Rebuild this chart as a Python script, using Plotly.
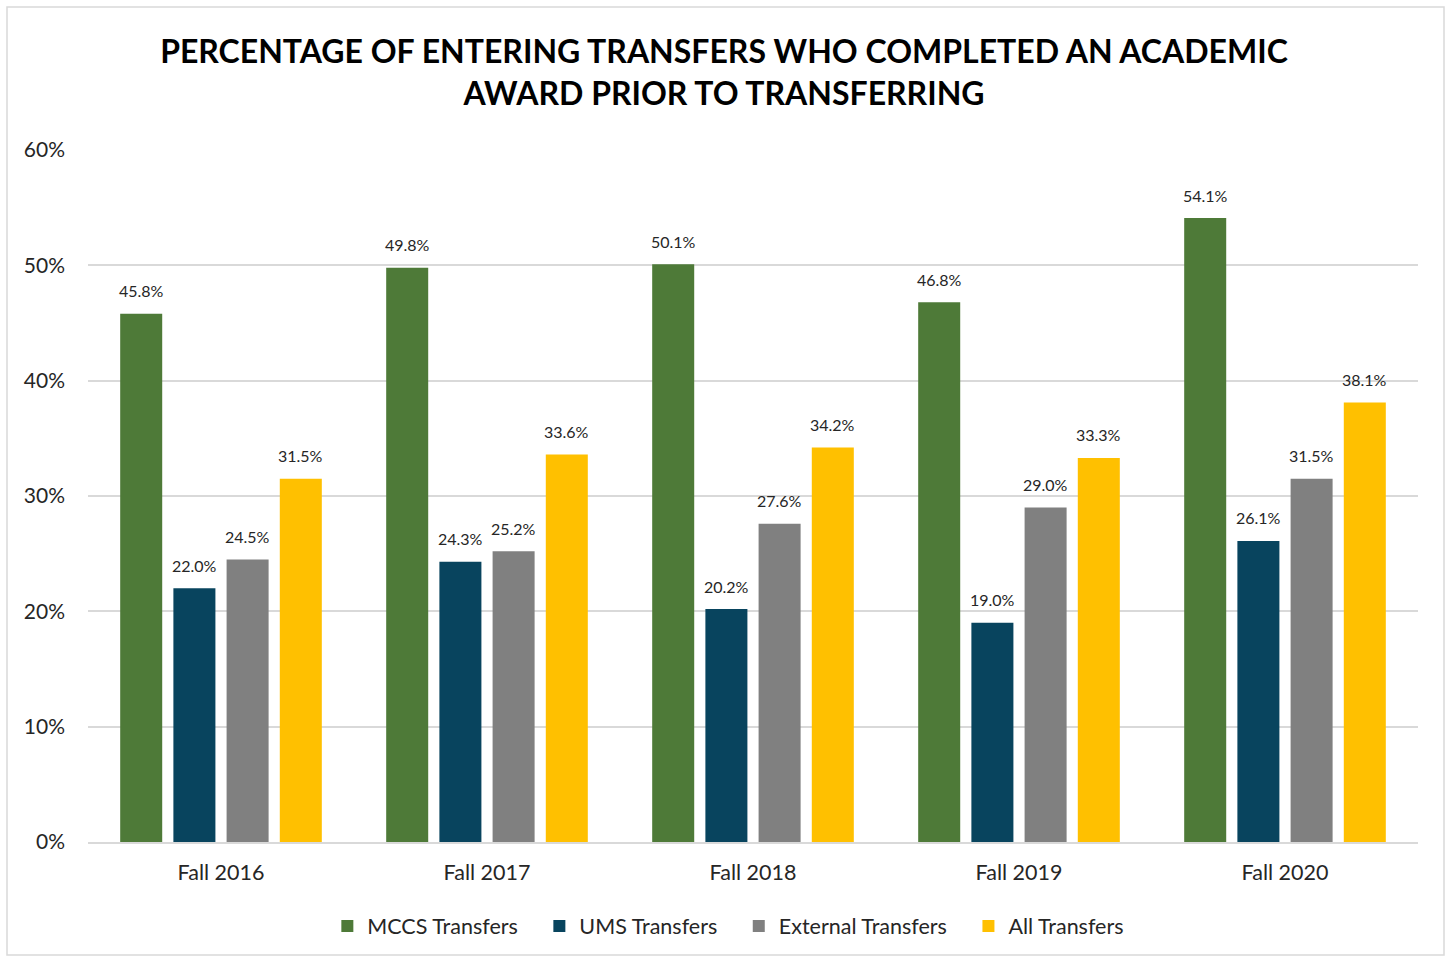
import plotly.graph_objects as go

categories = ["Fall 2016", "Fall 2017", "Fall 2018", "Fall 2019", "Fall 2020"]
series_names = ["MCCS Transfers", "UMS Transfers", "External Transfers", "All Transfers"]
mccs = [45.8, 49.8, 50.1, 46.8, 54.1]
ums = [22.0, 24.3, 20.2, 19.0, 26.1]
external = [24.5, 25.2, 27.6, 29.0, 31.5]
all_transfers = [31.5, 33.6, 34.2, 33.3, 38.1]
y_ticks = [0, 10, 20, 30, 40, 50, 60]

series_values = [mccs, ums, external, all_transfers]
colors = ["#4E7A38", "#08445E", "#808080", "#FFC000"]

FONT = "Lato, Carlito, Calibri, sans-serif"
W, H = 1448, 957
ML, MR, MT, MB = 88, 30, 150, 115
bargap = 0.2

fig = go.Figure()
for i, (name, vals, col) in enumerate(zip(series_names, series_values, colors)):
    pad = "\u00a0" * 3 if i < len(series_names) - 1 else ""
    fig.add_trace(go.Bar(
        x=list(range(len(categories))), y=[v / 100 for v in vals], name=name + pad,
        marker=dict(color=col, line=dict(width=0)),
        hoverinfo="skip",
    ))

# data labels above bars
n = len(series_names)
slot = (1 - bargap) / n
annotations = []
for si, vals in enumerate(series_values):
    off = -(1 - bargap) / 2 + slot * (si + 0.5)
    for ci, v in enumerate(vals):
        annotations.append(dict(
            x=ci + off, y=v / 100, xref="x", yref="y",
            text=f"{v:.1f}%", showarrow=False, yanchor="middle", yshift=23,
            font=dict(family=FONT, size=16, color="#262626"),
        ))

pw = W - ML - MR
ph = H - MT - MB
fig.update_layout(
    width=W, height=H,
    margin=dict(l=ML, r=MR, t=MT, b=MB),
    paper_bgcolor="white", plot_bgcolor="white",
    barmode="group", bargap=bargap, bargroupgap=0.21,
    title=dict(
        text="PERCENTAGE OF ENTERING TRANSFERS WHO COMPLETED AN ACADEMIC<br>AWARD PRIOR TO TRANSFERRING",
        x=0.5, xref="container", xanchor="center",
        y=1 - 63 / H, yref="container", yanchor="middle",
        font=dict(family=FONT, size=32, color="black", weight="bold"),
    ),
    font=dict(family=FONT, color="#262626"),
    xaxis=dict(
        tickmode="array", tickvals=list(range(len(categories))), ticktext=categories,
        range=[-0.5, len(categories) - 0.5],
        showgrid=False, zeroline=False, showline=True, linecolor="#D9D9D9", linewidth=1.5,
        ticks="", tickfont=dict(family=FONT, size=21.5, color="#262626"),
        ticklabelstandoff=10,
    ),
    yaxis=dict(
        range=[0, 0.6], tickvals=[t / 100 for t in y_ticks],
        ticktext=[f"{t}%" for t in y_ticks],
        showgrid=True, gridcolor="#D9D9D9", gridwidth=1.5,
        zeroline=False, showline=False, ticks="",
        tickfont=dict(family=FONT, size=21, color="#262626"),
        ticklabelstandoff=22,
    ),
    legend=dict(
        orientation="h", x=0.503, xref="container", xanchor="center",
        y=1 - 926 / H, yref="container", yanchor="middle",
        font=dict(family=FONT, size=21.5, color="#262626"),
        itemwidth=30, tracegroupgap=0,
    ),
    annotations=annotations,
    shapes=[dict(
        type="rect", xref="paper", yref="paper",
        x0=(7 - ML) / pw, x1=(1444 - ML) / pw,
        y0=(H - MB - 955) / ph, y1=(H - MB - 7) / ph,
        line=dict(color="#D9D9D9", width=1.5), fillcolor="rgba(0,0,0,0)", layer="below",
    )],
)

fig.write_html("out.html", config={"displayModeBar": False},
               post_script="document.body.style.margin='0';document.body.style.overflow='hidden';")
